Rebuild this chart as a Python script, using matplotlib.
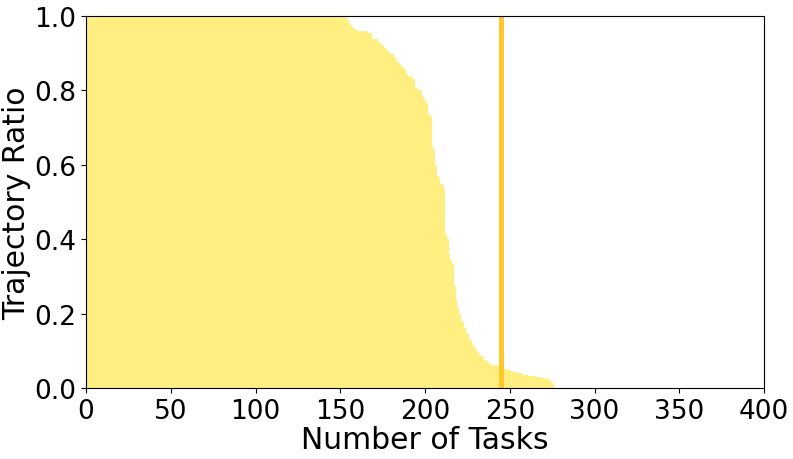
import matplotlib
matplotlib.use("Agg")
import matplotlib.pyplot as plt
import numpy as np

# Sorted trajectory ratios per task
ratios_full = [1.0] * 154
ratios_tail = [
    0.99, 0.982, 0.975, 0.97, 0.965, 0.962,
    0.96, 0.96, 0.96, 0.96, 0.96, 0.96,
    0.953, 0.953, 0.953,
    0.937, 0.937, 0.937,
    0.93, 0.928, 0.925, 0.92,
    0.915, 0.91, 0.906,
    0.90, 0.898, 0.897, 0.89,
    0.88, 0.874, 0.87,
    0.865, 0.86, 0.855,
    0.845, 0.84, 0.838, 0.836,
    0.83, 0.81, 0.805,
    0.80, 0.80,
    0.785, 0.78,
    0.77, 0.765,
    0.736, 0.73,
    0.651, 0.64,
    0.598,
    0.571, 0.565,
    0.548, 0.545,
    0.535,
    0.414, 0.40, 0.36, 0.345, 0.333,
    0.275, 0.24, 0.218, 0.20, 0.18, 0.177, 0.16,
    0.15, 0.145, 0.13, 0.126, 0.115, 0.11, 0.10, 0.097,
    0.088, 0.085, 0.083,
    0.075, 0.072, 0.07,
    0.065, 0.063, 0.062, 0.061, 0.06, 0.058,
    0.056, 0.055,
    0.052, 0.051, 0.05, 0.048,
    0.046, 0.045, 0.044, 0.043,
    0.041, 0.04, 0.04, 0.038,
    0.036, 0.035, 0.034, 0.033,
    0.032, 0.031, 0.031, 0.030, 0.030, 0.030, 0.029, 0.028, 0.027,
    0.026, 0.025,
    0.024, 0.02, 0.013,
]
ratios = ratios_full + ratios_tail
threshold_task = 245

xticks = [0, 50, 100, 150, 200, 250, 300, 350, 400]
yticks = [0.0, 0.2, 0.4, 0.6, 0.8, 1.0]

fig = plt.figure(figsize=(7.93, 4.60), dpi=100)
ax = fig.add_axes([86 / 793, 1 - 389 / 460, (764 - 86) / 793, (389 - 17) / 460])

x = np.arange(len(ratios))
ax.bar(x, ratios, width=1.0, align='edge', color='#FFEE80', alpha=1.0, linewidth=0)
ax.axvline(threshold_task, color='#FFC72C', linewidth=3.6)

ax.set_xlim(0, 400)
ax.set_ylim(0, 1.0)
ax.set_xticks(xticks)
ax.set_yticks(yticks)
ax.set_yticklabels([f"{v:.1f}" for v in yticks])
ax.tick_params(labelsize=19)
ax.set_xlabel("Number of Tasks", fontsize=21.5, labelpad=1)
ax.set_ylabel("Trajectory Ratio", fontsize=21.5, labelpad=2)

fig.savefig("out.png", dpi=100)
